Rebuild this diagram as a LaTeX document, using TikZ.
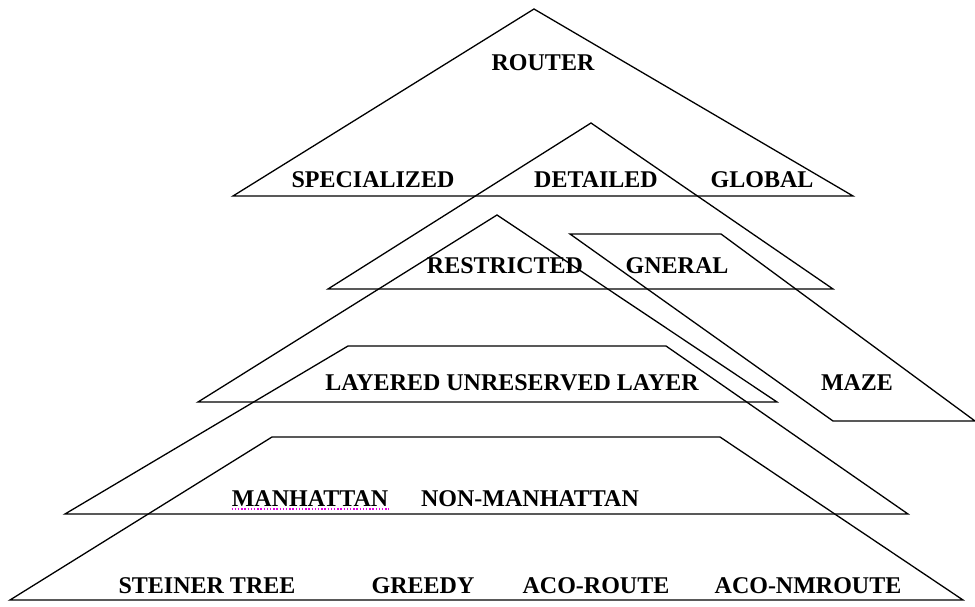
\documentclass[tikz,border=0pt]{standalone}
\usepackage{fontspec}
\setmainfont{Liberation Serif}
\definecolor{spellmark}{RGB}{225,0,225}
\begin{document}
\begin{tikzpicture}[x=1pt,y=-1pt,
  outline/.style={draw=black, line width=1.3pt, line join=miter},
  lbl/.style={font=\fontsize{24}{24}\selectfont\bfseries, anchor=base, inner sep=0pt},
  squiggle/.style={draw=spellmark, line width=1.4pt, dash pattern=on 1.4pt off 1.8pt}]
\useasboundingbox (0,0) rectangle (975,607);
\fill[white] (0,0) rectangle (975,607);

% level shapes, top to bottom
\draw[outline] (534,9) -- (853,196) -- (233,196) -- cycle;
\draw[outline] (591,123) -- (833,289) -- (328,289) -- cycle;
\draw[outline] (570,234) -- (721,234) -- (975,421) -- (833,421) -- cycle;
\draw[outline] (497,215) -- (777,402) -- (198,402) -- cycle;
\draw[outline] (348,346) -- (666,346) -- (908,514) -- (65,514) -- cycle;
\draw[outline] (272,437) -- (720,437) -- (963,600) -- (10,600) -- cycle;

% labels
\node[lbl] (router) at (543,71) {ROUTER};
\node[lbl] (specialized) at (373,188) {SPECIALIZED};
\node[lbl] (detailed) at (596,188) {DETAILED};
\node[lbl] (global) at (762,188) {GLOBAL};
\node[lbl] (restricted) at (505,273) {RESTRICTED};
\node[lbl] (gneral) at (677,273) {GNERAL};
\node[lbl] (layered) at (512,390) {LAYERED UNRESERVED LAYER};
\node[lbl] (maze) at (857,390) {MAZE};
\node[lbl] (manhattan) at (310,506) {MANHATTAN};
\node[lbl] (nonmanhattan) at (530,506) {NON-MANHATTAN};
\node[lbl] (steiner) at (207,593) {STEINER TREE};
\node[lbl] (greedy) at (423,593) {GREEDY};
\node[lbl] (acoroute) at (596,593) {ACO-ROUTE};
\node[lbl] (aconm) at (808,593) {ACO-NMROUTE};

% spelling underline beneath MANHATTAN
\draw[squiggle] ([yshift=-3pt]manhattan.base west) -- ([yshift=-3pt]manhattan.base east);
\end{tikzpicture}
\end{document}
